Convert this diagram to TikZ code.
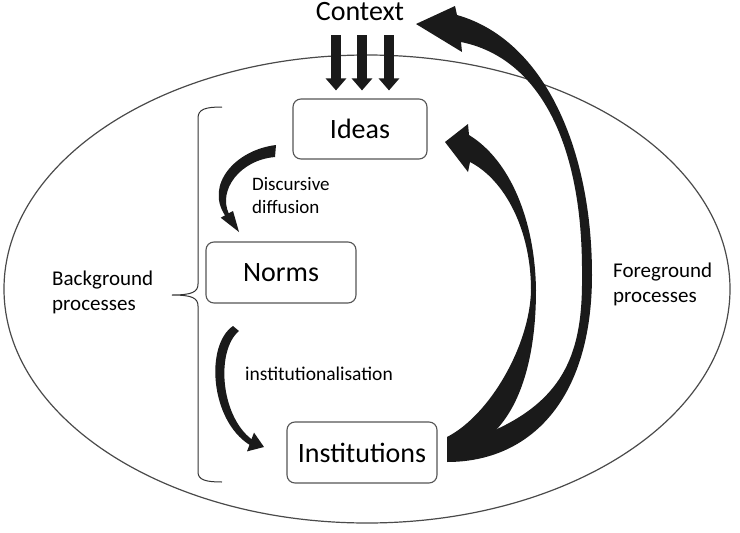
\documentclass[tikz,border=0pt]{standalone}
\usepackage{fontspec}
\setmainfont{Carlito}
\usetikzlibrary{arrows.meta,calc}
\definecolor{boxgray}{HTML}{555555}
\definecolor{arrowblack}{HTML}{1A1A1A}
\definecolor{ellgray}{HTML}{4A4A4A}
\definecolor{bracegray}{HTML}{333333}
\begin{document}
\begin{tikzpicture}[x=1pt,y=-1pt,
  box/.style={draw=boxgray,line width=1.1pt,rounded corners=8pt,inner sep=0pt,font=\fontsize{28}{34}\selectfont},
  lbl/.style={inner sep=0pt,align=left,anchor=base west},
  arrowfill/.style={fill=arrowblack},
  downarr/.style={line width=10pt,draw=arrowblack,-{Triangle[width=20pt,length=12pt]}},
  braceline/.style={draw=bracegray,line width=1pt}]
\fill[white] (0,0) rectangle (740,533);
\useasboundingbox (0,0) rectangle (740,533);

% outer ellipse
\draw[ellgray,line width=1.2pt] (367,289) ellipse [x radius=363pt, y radius=234pt];

% nodes
\node[box,minimum width=134pt,minimum height=60pt] (ideas) at (360,129) {Ideas};
\node[box,minimum width=150pt,minimum height=61pt] (norms) at (281,272.5) {Norms};
\node[box,minimum width=150pt,minimum height=61pt] (inst) at (362,452.5) {Institutions};
\node[inner sep=0pt,anchor=base,font=\fontsize{28}{34}\selectfont] (ctx) at (360,20) {Context};

% labels (anchor base = baseline of the last line)
\node[lbl,font=\fontsize{21}{25}\selectfont] (bg) at (52,310) {Background\\processes};
\node[lbl,font=\fontsize{21}{25}\selectfont] (fg) at (613,302) {Foreground\\processes};
\node[lbl,font=\fontsize{19}{23}\selectfont] (dd) at (252,213) {Discursive\\diffusion};
\node[lbl,font=\fontsize{19.5}{23}\selectfont] (il) at (245,380) {institutionalisation};

% context arrows
\coordinate (a1) at (336,0);
\coordinate (a2) at (362,0);
\coordinate (a3) at (389,0);
\foreach \a in {a1,a2,a3}
  \draw[downarr,shorten <=15pt,shorten >=8pt] (ctx.south -| \a) -- (ideas.north -| \a);

% brace
\draw[braceline] (222,107) .. controls (206,107) and (198,109) .. (198,118) -- (198,284)
  .. controls (198,292) and (192,295) .. (172,295)
  .. controls (192,295) and (198,298) .. (198,306) -- (198,472)
  .. controls (198,480) and (206,482) .. (222,482);

% discursive diffusion arrow
\fill[arrowfill] (276,145) .. controls (235,150) and (205,185) .. (225,215.4)
  -- (220.7,217.7) -- (239,232) -- (233,211) -- (228.7,213.3)
  .. controls (218,190) and (240,160) .. (275,157) -- cycle;

% institutionalisation arrow
\fill[arrowfill] (233,326) .. controls (205,345) and (210,420) .. (249.5,444.8)
  -- (247,451.4) -- (264,447) -- (254,432.6) -- (251.5,439.2)
  .. controls (220,415) and (216,350) .. (239,331) -- cycle;

% foreground arrow to context
\fill[arrowfill] (447,462) .. controls (530,462) and (592,400) .. (592,275)
  .. controls (592,150) and (545,40) .. (457,15)
  -- (455,6) -- (416,24) -- (462,52) -- (461,42)
  .. controls (540,58) and (583,145) .. (582,275)
  .. controls (583,360) and (562,415) .. (447,447) -- cycle;

% foreground arrow to ideas
\fill[arrowfill] (447,455) .. controls (505,448) and (536,385) .. (536,290)
  .. controls (535,220) and (510,160) .. (469,135)
  -- (468,124) -- (445,142) -- (468,172) -- (470,162)
  .. controls (505,180) and (531,230) .. (531,290)
  .. controls (530,345) and (490,415) .. (447,437) -- cycle;
\end{tikzpicture}
\end{document}
